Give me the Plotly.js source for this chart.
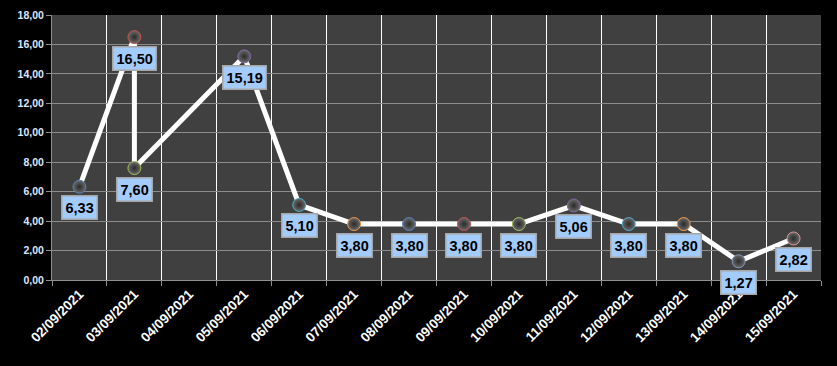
<!DOCTYPE html>
<html>
<head>
<meta charset="utf-8">
<script src="https://cdn.plot.ly/plotly-3.0.1.min.js"></script>
<style>html,body{margin:0;padding:0;background:#000;}#chart{width:837px;height:366px;}</style>
</head>
<body>
<div id="chart"></div>
<script>
// Category labels on the x axis
var categories = ["02/09/2021","03/09/2021","04/09/2021","05/09/2021","06/09/2021","07/09/2021","08/09/2021","09/09/2021","10/09/2021","11/09/2021","12/09/2021","13/09/2021","14/09/2021","15/09/2021"];
// Data points (03/09 has two readings, 04/09 has none)
var pointDates = ["02/09/2021","03/09/2021","03/09/2021","05/09/2021","06/09/2021","07/09/2021","08/09/2021","09/09/2021","10/09/2021","11/09/2021","12/09/2021","13/09/2021","14/09/2021","15/09/2021"];
var values = [6.33,16.50,7.60,15.19,5.10,3.80,3.80,3.80,3.80,5.06,3.80,3.80,1.27,2.82];
var yTicks = [0,2,4,6,8,10,12,14,16,18];

var rimColors = ["#4f81bd","#c0504d","#9bbb59","#8064a2","#4bacc6","#f79646","#4f81bd","#c0504d","#9bbb59","#8064a2","#4bacc6","#f79646","#7f93b8","#d99694"];

function fmt(v){ return v.toFixed(2).replace('.', ','); }

var trace = {
  x: pointDates,
  y: values,
  type: 'scatter',
  mode: 'lines+markers',
  line: {color: '#ffffff', width: 5},
  marker: {
    size: 13,
    color: '#6a6a6a',
    gradient: {type: 'radial', color: '#2a2a2a'},
    line: {color: rimColors, width: 1}
  },
  hoverinfo: 'none'
};

var annotations = values.map(function(v, i){
  return {
    x: pointDates[i], y: v, xref: 'x', yref: 'y',
    text: '<b>' + fmt(v) + '</b>',
    showarrow: false,
    yshift: -21,
    font: {family: 'Liberation Sans, Arial, sans-serif', size: 14.5, color: '#000000'},
    bgcolor: '#a3ccfc',
    bordercolor: '#a6a6a6',
    borderwidth: 1.5,
    borderpad: 3
  };
});

var layout = {
  width: 837, height: 366,
  margin: {l: 52, r: 16, t: 15, b: 86},
  paper_bgcolor: '#000000',
  plot_bgcolor: '#404040',
  separators: ',.',
  showlegend: false,
  xaxis: {
    type: 'category',
    categoryorder: 'array',
    categoryarray: categories,
    tickvals: categories,
    ticktext: categories.map(function(c){ return '<b>' + c + '</b>'; }),
    range: [-0.5, categories.length - 0.5],
    tickson: 'boundaries',
    showgrid: true,
    gridcolor: '#ffffff',
    gridwidth: 1,
    ticks: 'outside',
    ticklen: 5,
    tickcolor: '#909090',
    showline: true,
    linecolor: '#909090',
    linewidth: 1,
    tickangle: -45,
    tickfont: {family: 'Liberation Sans, Arial, sans-serif', size: 13.5, color: '#ffffff'},
    zeroline: false,
    fixedrange: true
  },
  yaxis: {
    range: [0, 18],
    tickvals: yTicks,
    ticktext: yTicks.map(function(t){ return '<b>' + fmt(t) + '</b>'; }),
    showgrid: true,
    gridcolor: '#8c8c8c',
    gridwidth: 1,
    ticks: 'outside',
    ticklen: 5,
    tickcolor: '#909090',
    showline: true,
    linecolor: '#909090',
    linewidth: 1,
    tickfont: {family: 'Liberation Sans, Arial, sans-serif', size: 10.5, color: '#dce8ff'},
    zeroline: false,
    fixedrange: true
  },
  annotations: annotations
};

Plotly.newPlot('chart', [trace], layout, {displayModeBar: false, staticPlot: true});
</script>
</body>
</html>
